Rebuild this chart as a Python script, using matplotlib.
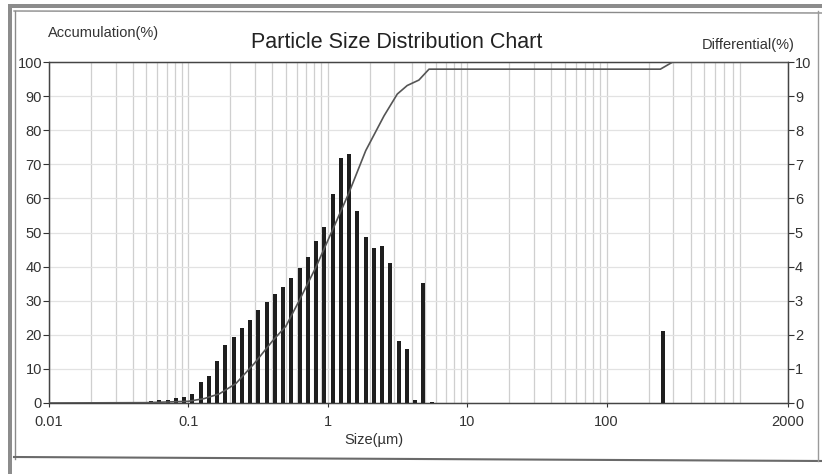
import matplotlib
matplotlib.use('Agg')
import matplotlib.pyplot as plt
import numpy as np
from matplotlib.ticker import LogLocator, NullFormatter, FixedLocator
from matplotlib.patches import Rectangle
from matplotlib.lines import Line2D

plt.rcParams['font.family'] = ['Liberation Sans', 'DejaVu Sans']

# ---- data ----
sizes = [0.054, 0.0619, 0.0709, 0.0813, 0.0931, 0.1067, 0.1223, 0.1401, 0.1606,
         0.1840, 0.2109, 0.2417, 0.2770, 0.3174, 0.3638, 0.4169, 0.4778, 0.5475,
         0.6275, 0.7191, 0.8241, 0.9444, 1.082, 1.240, 1.421, 1.629, 1.867,
         2.139, 2.452, 2.810, 3.220, 3.690, 4.229, 4.846, 5.554]
differential = [0.05, 0.10, 0.10, 0.14, 0.18, 0.27, 0.62, 0.79, 1.22,
                1.69, 1.95, 2.20, 2.42, 2.74, 2.96, 3.19, 3.40, 3.67,
                3.96, 4.28, 4.74, 5.15, 6.12, 7.19, 7.30, 5.63, 4.86,
                4.56, 4.59, 4.11, 1.81, 1.59, 0.08, 3.53, 0.04]
coarse_size = [255]
coarse_diff = [2.1]

cum_size = [0.01, 0.05, 0.1, 0.13, 0.167, 0.219, 0.297, 0.401, 0.5, 0.623,
            0.821, 1.08, 1.42, 1.87, 2.53, 3.15, 3.71, 4.5, 5.32, 243, 298, 2000]
cum_value = [0, 0.1, 0.5, 1.3, 2.7, 5.7, 11.6, 18.2, 22.5, 30,
             39.8, 50.7, 61.7, 74, 84.2, 90.6, 93.1, 94.7, 97.9, 97.9, 100, 100]

x_ticks = [0.01, 0.1, 1, 10, 100, 2000]
x_tick_labels = ['0.01', '0.1', '1', '10', '100', '2000']
acc_ticks = list(range(0, 101, 10))
diff_ticks = list(range(0, 11))

title = 'Particle Size Distribution Chart'
left_label = 'Accumulation(%)'
right_label = 'Differential(%)'
x_label = 'Size(µm)'

# ---- figure ----
W, H = 822, 474
fig = plt.figure(figsize=(W / 100, H / 100), dpi=100)
fig.patch.set_facecolor('white')

L, R, T, B = 49, 788, 62, 403
ax = fig.add_axes([L / W, 1 - B / H, (R - L) / W, (B - T) / H])
ax.set_xscale('log')
ax.set_xlim(0.01, 2000)
ax.set_ylim(0, 100)

tick_color = '#333333'
spine_color = '#444444'

ax.xaxis.set_major_locator(FixedLocator(x_ticks))
ax.set_xticklabels(x_tick_labels)
ax.xaxis.set_minor_locator(LogLocator(base=10, subs=np.arange(2, 10), numticks=20))
ax.xaxis.set_minor_formatter(NullFormatter())
ax.set_yticks(acc_ticks)

ax.grid(True, which='both', axis='x', color='#cfcfcf', linewidth=0.9)
ax.grid(True, which='major', axis='y', color='#e2e2e2', linewidth=0.9)
ax.set_axisbelow(True)

ax.tick_params(axis='x', which='major', direction='out', length=3, pad=6,
               labelsize=10.5, colors=tick_color)
ax.tick_params(axis='x', which='minor', length=0)
ax.tick_params(axis='y', direction='out', length=4, pad=1,
               labelsize=10.5, colors=tick_color)

for s in ax.spines.values():
    s.set_color(spine_color)
    s.set_linewidth(0.9)

ax2 = ax.twinx()
ax2.set_ylim(0, 10)
ax2.set_yticks(diff_ticks)
ax2.tick_params(axis='y', direction='out', length=4, pad=1,
                labelsize=10.5, colors=tick_color)
for s in ax2.spines.values():
    s.set_color(spine_color)
    s.set_linewidth(0.9)

# bars (log-width bars)
half = 10 ** 0.0145
def draw_bars(xs, hs):
    xs = np.asarray(xs, float)
    lefts = xs / half
    widths = xs * half - lefts
    ax2.bar(lefts, hs, width=widths, align='edge', color='#1e1e1e',
            edgecolor='none', zorder=2)

draw_bars(sizes, differential)
draw_bars(coarse_size, coarse_diff)

# cumulative curve (left scale)
ax2.plot(cum_size, cum_value, transform=ax.transData, color='#555555',
         linewidth=1.2, zorder=3, solid_joinstyle='round')

# ---- texts ----
fig.text(48 / W, 1 - 33 / H, left_label, ha='left', va='center',
         fontsize=10.5, color='#333333')
fig.text(795 / W, 1 - 45 / H, right_label, ha='right', va='center',
         fontsize=10.5, color='#333333')
fig.text(397 / W, 1 - 43 / H, title, ha='center', va='center',
         fontsize=15.5, color='#222222')
fig.text(374 / W, 1 - 440 / H, x_label, ha='center', va='center',
         fontsize=10.5, color='#333333')

# ---- scanned page frame ----
def px_rect(x0, y0, x1, y1, color):
    fig.add_artist(Rectangle((x0 / W, 1 - y1 / H), (x1 - x0) / W, (y1 - y0) / H,
                             transform=fig.transFigure, facecolor=color,
                             edgecolor='none'))

def px_line(x0, y0, x1, y1, color, lw):
    fig.add_artist(Line2D([x0 / W, x1 / W], [1 - y0 / H, 1 - y1 / H],
                          transform=fig.transFigure, color=color, linewidth=lw))

px_rect(8, 4, 822, 8, '#8c8c8c')
px_rect(8, 4, 12, 474, '#8c8c8c')
px_line(14, 11, 822, 13, '#8a8a8a', 1.0)
px_line(14.5, 11, 14.5, 459, '#8a8a8a', 1.0)
px_line(14, 457, 822, 461, '#6a6a6a', 1.5)
px_line(818, 11, 818, 461, '#9a9a9a', 1.0)

fig.savefig('out.png', dpi=100, facecolor='white')
